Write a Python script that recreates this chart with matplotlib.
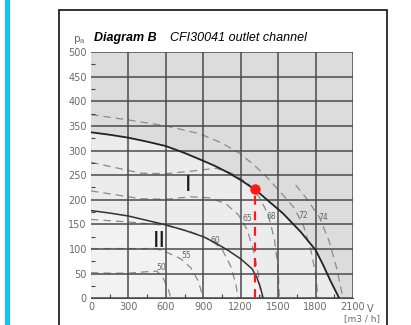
import matplotlib.pyplot as plt
from matplotlib.patches import Rectangle

# Kennlinien (Volumenstrom m3/h, Druck Pa)
curva_I_x = [0, 150, 300, 450, 600, 750, 900, 1000, 1100, 1200, 1320, 1420, 1540, 1680, 1800, 1860, 1920, 1990]
curva_I_y = [337, 332, 326, 318, 309, 295, 279, 268, 255, 240, 220, 198, 172, 135, 98, 68, 35, 0]

curva_II_x = [0, 150, 300, 450, 600, 750, 900, 1000, 1100, 1200, 1290, 1330, 1360, 1380]
curva_II_y = [178, 173, 167, 158, 149, 138, 125, 112, 97, 80, 60, 42, 20, 0]

# Geräuschkurven (gestrichelt) dB(A)
nivel_50_x = [0, 150, 300, 450, 530, 580, 620, 640]
nivel_50_y = [52, 51, 51, 54, 55, 40, 18, 0]
nivel_55_x = [0, 200, 400, 520, 620, 720, 800, 860, 900]
nivel_55_y = [101, 101, 101, 101, 92, 80, 62, 35, 0]
nivel_60_x = [0, 300, 600, 800, 950, 1050, 1120, 1160, 1180]
nivel_60_y = [160, 155, 148, 135, 120, 100, 65, 30, 0]
nivel_65_x = [0, 200, 400, 600, 800, 950, 1080, 1180, 1250, 1300, 1340, 1366]
nivel_65_y = [218, 210, 202, 201, 206, 204, 192, 170, 140, 100, 50, 0]
nivel_68_x = [0, 200, 400, 600, 800, 1000, 1150, 1260, 1350, 1420, 1470, 1500, 1510]
nivel_68_y = [276, 265, 254, 253, 258, 264, 252, 232, 205, 170, 120, 60, 0]
nivel_72_x = [0, 300, 600, 872, 1050, 1193, 1300, 1406, 1520, 1620, 1700, 1760, 1800, 1820]
nivel_72_y = [373, 362, 350, 334, 315, 294, 272, 247, 215, 186, 150, 100, 50, 0]
nivel_74_x = [1640, 1720, 1830, 1910, 1970, 2020]
nivel_74_y = [230, 205, 165, 115, 60, 0]

niveles = [(nivel_50_x, nivel_50_y), (nivel_55_x, nivel_55_y), (nivel_60_x, nivel_60_y),
           (nivel_65_x, nivel_65_y), (nivel_68_x, nivel_68_y), (nivel_72_x, nivel_72_y),
           (nivel_74_x, nivel_74_y)]
etiquetas = ['50', '55', '60', '65', '68', '72', '74']
etiq_x = [560, 766, 993, 1255, 1446, 1700, 1865]
etiq_y = [62, 86, 118, 162, 166, 169, 165]

punto_x = 1318
punto_y = 221

xticks = [0, 300, 600, 900, 1200, 1500, 1800, 2100]
yticks = [0, 50, 100, 150, 200, 250, 300, 350, 400, 450, 500]

fig = plt.figure(figsize=(4.11, 3.25), dpi=100)
fig.patch.set_facecolor('white')

# barra lateral y marco
fig.add_artist(Rectangle((0.012, 0), 0.013, 1, transform=fig.transFigure, color='#12c4f2', lw=0))
fig.add_artist(Rectangle((0.1436, -0.05), 0.798, 1.019, transform=fig.transFigure,
                         fill=False, ec='#222222', lw=1.3))

ax = fig.add_axes([0.2214, 0.0822, 0.6375, 0.7578])
ax.set_facecolor('#dcdcdc')
ax.fill_between(curva_I_x, curva_I_y, 0, color='#ececec', lw=0, zorder=0)
ax.fill_between(curva_II_x, curva_II_y, 0, color='#f2f2f2', lw=0, zorder=0)

for x, y in niveles:
    ax.plot(x, y, ls=(0, (6, 4)), color='#8a8a8a', lw=0.9, zorder=2)
for t, x, y in zip(etiquetas, etiq_x, etiq_y):
    ax.text(x, y, t, fontsize=5.5, color='#666666', ha='center', va='center', zorder=3)

ax.plot(curva_I_x, curva_I_y, color='#222222', lw=1.3, zorder=4)
ax.plot(curva_II_x, curva_II_y, color='#333333', lw=1.1, zorder=4)

ax.plot([punto_x, punto_x], [0, punto_y], color='#ff1a1a', ls=(0, (4, 3)), lw=1.6, zorder=5)
ax.plot(punto_x, punto_y, 'o', color='#ff1a1a', ms=6.5, zorder=6)

ax.text(778, 229, 'I', fontsize=16, color='#1c1c28', ha='center', va='center', zorder=5)
ax.text(546, 116, 'II', fontsize=16, color='#1c1c28', ha='center', va='center', zorder=5)

ax.set_xlim(0, 2100)
ax.set_ylim(0, 500)
ax.set_xticks(xticks)
ax.set_yticks(yticks)
ax.set_xticklabels([str(v) for v in xticks])
ax.set_xticks([v + 150 for v in xticks[:-1]], minor=True)
ax.set_yticks([v + 25 for v in yticks[:-1]], minor=True)
ax.tick_params(which='major', length=0, labelsize=7, labelcolor='#6a6a6a', pad=3)
ax.tick_params(which='minor', direction='in', length=3, color='#444444', width=0.8)
ax.grid(True, which='major', color='#4a4a4a', lw=1.1)
ax.get_xgridlines()[0].set_visible(False)
for s in ['left', 'right', 'top']:
    ax.spines[s].set_visible(False)
ax.spines['bottom'].set_color('#4a4a4a')
ax.set_axisbelow(False)

ax.text(2215, -12, 'V', fontsize=7, color='#6a6a6a', ha='left', va='top', clip_on=False)
ax.text(2170, -32, '[m3 / h]', fontsize=6.5, color='#6a6a6a', ha='center', va='top', clip_on=False)
ax.text(-95, 513, r'$\mathregular{p_a}$', fontsize=7.5, color='#6a6a6a', ha='center', va='bottom')
ax.text(25, 528, 'Diagram B', fontsize=9, fontweight='bold', fontstyle='italic',
        family='Liberation Sans', ha='left', va='center')
ax.text(630, 528, 'CFI30041 outlet channel', fontsize=9, fontstyle='italic',
        family='Liberation Sans', ha='left', va='center')

fig.savefig('out.png', dpi=100)
